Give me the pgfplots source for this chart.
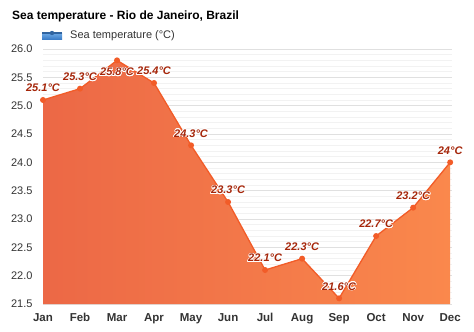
\documentclass[border=0pt]{standalone}
\usepackage{pgfplots}
\pgfplotsset{compat=1.18}
\usepackage{fontspec}
\setmainfont{Liberation Sans}
\usepackage[copies]{contour}
\contourlength{0.6bp}
\contournumber{16}
\definecolor{lineC}{RGB}{242,92,40}
\definecolor{fillL}{RGB}{236,104,70}
\definecolor{fillR}{RGB}{250,136,76}
\definecolor{labC}{RGB}{165,38,10}
\definecolor{txt}{RGB}{51,51,51}
\definecolor{legT}{RGB}{110,170,230}
\definecolor{legB}{RGB}{60,125,200}
\newcommand{\lab}[1]{\contour{white}{#1}}
\begin{document}
\begin{tikzpicture}[x=1bp,y=1bp]
\useasboundingbox (0,0) rectangle (474,331);
\node[anchor=base west, font=\fontsize{12bp}{14bp}\selectfont\bfseries, inner sep=0] at (12,311.5) {Sea temperature - Rio de Janeiro, Brazil};
\shade[top color=legT, bottom color=legB] (42,292) rectangle (62,298);
\draw[legB!80!black, line width=1.2bp] (42,298) -- (62,298);
\fill[legB!80!black] (52,298) circle (2.2bp);
\node[anchor=west, font=\fontsize{11bp}{13bp}\selectfont, text=txt, inner sep=0] at (70,295) {Sea temperature (°C)};
\begin{axis}[
  at={(43bp,27bp)}, anchor=south west, scale only axis,
  width=409bp, height=255bp,
  xmin=0, xmax=11.05, ymin=21.5, ymax=26,
  axis line style={draw=none}, tick style={draw=none},
  xtick={0,...,11},
  xticklabels={Jan,Feb,Mar,Apr,May,Jun,Jul,Aug,Sep,Oct,Nov,Dec},
  xticklabel style={font=\fontsize{11.5bp}{13bp}\selectfont\bfseries, text=txt, yshift=-6bp},
  ytick={21.5,22,...,26},
  minor y tick num=4,
  ymajorgrids, yminorgrids,
  major grid style={black!12, line width=0.6bp},
  minor grid style={black!5, line width=0.5bp},
  yticklabel style={font=\fontsize{11bp}{13bp}\selectfont, text=txt, xshift=-7bp, /pgf/number format/.cd, fixed, fixed zerofill, precision=1, assume math mode=true},
  clip=false,
]
\addplot[draw=none, left color=fillL, right color=fillR] coordinates {
(0,25.1) (1,25.3) (2,25.8) (3,25.4) (4,24.3) (5,23.3) (6,22.1) (7,22.3) (8,21.6) (9,22.7) (10,23.2) (11,24.0)} \closedcycle;
\addplot[lineC, line width=1.3bp, mark=*, mark size=2.3bp, mark options={fill=lineC, draw=lineC},
  point meta=explicit symbolic,
  nodes near coords={\lab{\pgfplotspointmeta}},
  nodes near coords style={font=\fontsize{11bp}{13bp}\selectfont\bfseries\itshape, text=labC, anchor=center, yshift=11.5bp, inner sep=0}]
coordinates {
(0,25.1) [25.1°C] (1,25.3) [25.3°C] (2,25.8) [] (3,25.4) [25.4°C] (4,24.3) [24.3°C] (5,23.3) [23.3°C] (6,22.1) [22.1°C] (7,22.3) [22.3°C] (8,21.6) [21.6°C] (9,22.7) [22.7°C] (10,23.2) [23.2°C] (11,24.0) [24°C]};
\addplot[draw=none, mark=none, point meta=explicit symbolic, nodes near coords={\lab{\pgfplotspointmeta}},
  nodes near coords style={font=\fontsize{11bp}{13bp}\selectfont\bfseries\itshape, text=labC, anchor=center, yshift=-12bp, inner sep=0}]
coordinates {(2,25.8) [25.8°C]};
\end{axis}
\end{tikzpicture}
\end{document}
